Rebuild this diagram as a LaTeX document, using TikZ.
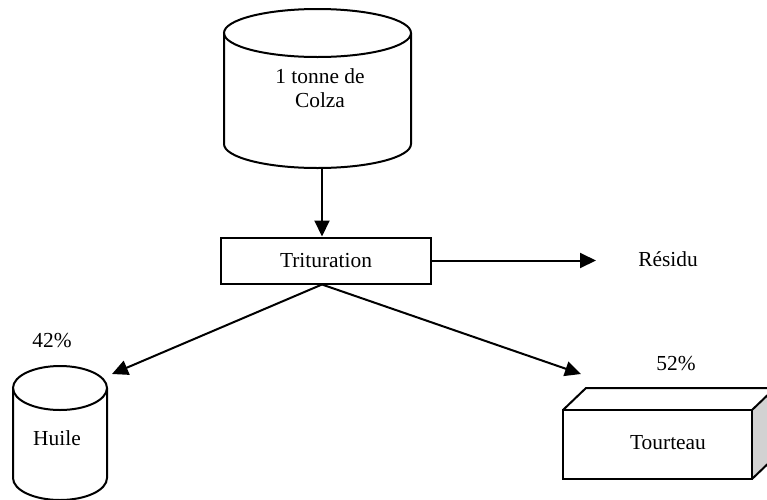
\documentclass[tikz,border=0pt]{standalone}
\usepackage{fontspec}
\setmainfont{Liberation Serif}
\usetikzlibrary{arrows.meta}
\begin{document}
\begin{tikzpicture}[x=0.5pt,y=-0.5pt,line width=1pt,
    flow/.style={-{Triangle[length=8pt,width=7.5pt]}},
    lbl/.style={font=\fontsize{10.7}{12}\selectfont,align=center,inner sep=0pt},
    procbox/.style={draw,minimum width=105pt,minimum height=23pt}]
\useasboundingbox (0,0) rectangle (767,499);

% Colza tank
\draw (224,33) -- (224,144) arc[start angle=180,end angle=0,x radius=93.5,y radius=24] -- (411,33);
\draw (317.5,33) ellipse[x radius=93.5,y radius=24];
\node[lbl] (colza) at (320,88) {1 tonne de\\Colza};
\coordinate (colzabot) at (322,168);

% Process
\node[lbl,procbox] (trit) at (326,260.5) {Trituration};
\draw[flow] (colzabot) -- (colzabot |- trit.north);

\coordinate (residuend) at (596,260.5);
\draw[flow] (trit.east) -- (residuend);
\node[lbl] (residu) at (668,259) {Résidu};

% Split
\coordinate (split) at (colzabot |- trit.south);
\coordinate (huiletip) at (112,374);
\coordinate (tourtip) at (581,374);
\draw[flow] (split) -- (huiletip);
\draw[flow] (split) -- (tourtip);

% Huile tank
\draw (13,388) -- (13,478) arc[start angle=180,end angle=0,x radius=47,y radius=22] -- (107,388);
\draw (60,388) ellipse[x radius=47,y radius=22];
\node[lbl] (huile) at (57,438) {Huile};
\node[lbl] (pcthuile) at (52,341) {42\%};

% Tourteau block
\fill[gray!35] (752,410) -- (775,388) -- (775,457) -- (752,479) -- cycle;
\draw (563,410) -- (586,388) -- (775,388) -- (752,410);
\draw (752,479) -- (775,457) -- (775,388);
\node[draw,minimum width=94.5pt,minimum height=34.5pt,inner sep=0pt] (tourteau) at (657.5,444.5) {};
\node[lbl] (tourlbl) at (668,443) {Tourteau};
\node[lbl] (pcttour) at (676,364) {52\%};
\end{tikzpicture}
\end{document}
